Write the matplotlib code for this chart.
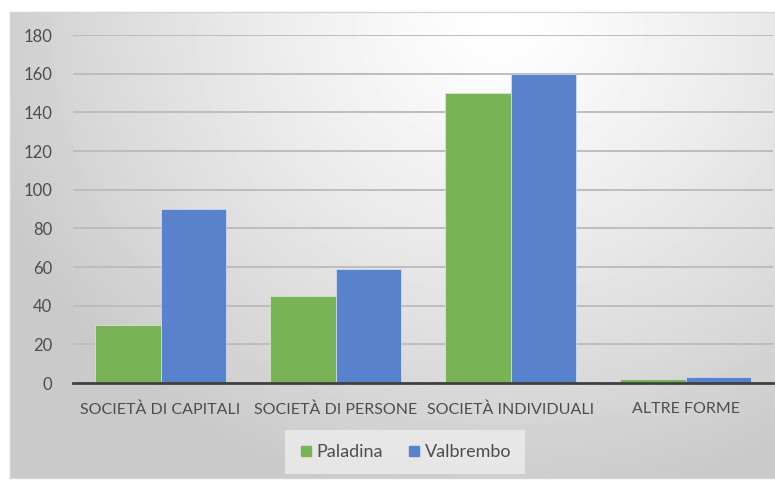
import numpy as np
import matplotlib.pyplot as plt
from matplotlib.lines import Line2D

categories = ["SOCIETÀ DI CAPITALI", "SOCIETÀ DI PERSONE", "SOCIETÀ INDIVIDUALI", "ALTRE FORME"]
paladina = [30, 45, 150, 2]
valbrembo = [90, 59, 160, 3]
yticks = [0, 20, 40, 60, 80, 100, 120, 140, 160, 180]

GREEN = "#78b455"
BLUE = "#5882cb"
TEXT = "#4d4d4d"

plt.rcParams['font.family'] = ['Lato', 'DejaVu Sans']

W, H = 775, 480
fig = plt.figure(figsize=(W / 100, H / 100), dpi=100)
fig.patch.set_facecolor("white")

# panel background: soft radial gradient, light near the top middle
px0, py0, px1, py1 = 10, 12, 775, 478
bg = fig.add_axes([px0 / W, 1 - py1 / H, (px1 - px0) / W, (py1 - py0) / H], zorder=0)
xx, yy = np.meshgrid(np.arange(px0, px1), np.arange(py0, py1))
d = np.sqrt(((xx - 500) / 1.0) ** 2 + ((yy - 20) / 0.9) ** 2)
shade = np.clip(1 - 0.2 * (d / 520) ** 1.2, 0.79, 1.0)
bg.imshow(shade, cmap="gray", vmin=0, vmax=1, aspect="auto", interpolation="bilinear")
bg.set_xticks([])
bg.set_yticks([])
for s in bg.spines.values():
    s.set_color("#d4d4d4")
    s.set_linewidth(1)

ax = fig.add_axes([73 / W, (H - 383) / H, 700 / W, 348 / H], zorder=1)
ax.patch.set_alpha(0)

x = np.arange(len(categories))
w = 0.375
ax.bar(x - w / 2, paladina, w, color=GREEN, edgecolor="#dfead6", linewidth=0.5, label="Paladina", zorder=3)
ax.bar(x + w / 2, valbrembo, w, color=BLUE, edgecolor="#d8e2f2", linewidth=0.5, label="Valbrembo", zorder=3)

ax.set_xlim(-0.5, len(categories) - 0.5)
ax.set_ylim(0, 180)
ax.set_yticks(yticks)
ax.set_xticks(x)
ax.set_xticklabels(categories)
ax.grid(axis="y", color="#bdbdbd", linewidth=1.4, zorder=1)
ax.set_axisbelow(True)
for name in ["top", "right", "left"]:
    ax.spines[name].set_visible(False)
ax.spines["bottom"].set_color("#404040")
ax.spines["bottom"].set_linewidth(2)
ax.spines["bottom"].set_zorder(4)
ax.tick_params(axis="both", length=0, colors=TEXT, labelsize=11.5)
ax.tick_params(axis="y", pad=15, labelsize=12)
ax.tick_params(axis="x", pad=14)

handles = [Line2D([], [], marker="s", linestyle="none", markersize=6.5, color=c, label=l)
           for c, l in [(GREEN, "Paladina"), (BLUE, "Valbrembo")]]
leg = fig.legend(handles=handles, loc="center", bbox_to_anchor=(405 / W, 1 - 452 / H), ncol=2,
                 frameon=True, fancybox=False, handletextpad=0.2, columnspacing=1.3,
                 handlelength=0.8, borderpad=0.75, borderaxespad=0, prop={"size": 13})
leg.get_frame().set_facecolor("#ededed")
leg.get_frame().set_edgecolor("none")
for t in leg.get_texts():
    t.set_color(TEXT)

fig.savefig("out.png", dpi=100)
